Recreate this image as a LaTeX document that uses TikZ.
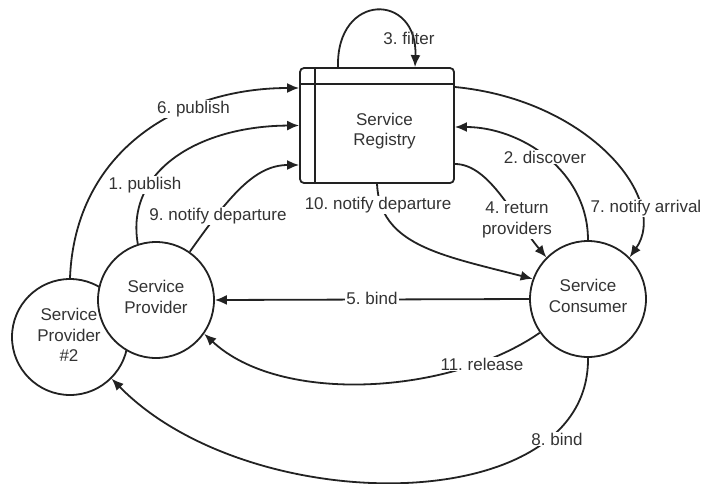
\documentclass[tikz,border=0pt]{standalone}
\usepackage{fontspec}
\setmainfont{Liberation Sans}
\usetikzlibrary{arrows.meta}
\definecolor{linec}{HTML}{222222}
\definecolor{textc}{HTML}{333333}
\newcommand{\lblfont}{\fontsize{17}{20.5}\selectfont\frenchspacing}
\begin{document}
\frenchspacing
\begin{tikzpicture}[x=1pt,y=-1pt,
  ln/.style={draw=linec, line width=1.8pt},
  arr/.style={ln, -{Latex[length=12pt,width=10pt]}},
  circ/.style={circle, draw=linec, fill=white, line width=1.8pt, minimum size=116pt, inner sep=0pt, align=center, text=textc, font=\lblfont},
  txt/.style={inner sep=0pt, text=textc, font=\lblfont, align=center},
  lbl/.style={txt, fill=white, inner sep=1pt}]
\useasboundingbox (0,0) rectangle (702,483);
% nodes
\node[circ] (sp2) at (70,337) {};
\node[txt] (sp2t) at (69,335) {Service\\Provider\\\#2};
\node[circ] (sp) at (156,300) {};
\node[txt] (spt) at (156,297) {Service\\Provider};
\node[circ] (sc) at (588,299) {};
\node[txt] (sct) at (588,296) {Service\\Consumer};
\node[draw=linec, line width=1.8pt, rounded corners=4pt, minimum width=154pt, minimum height=115pt, inner sep=0pt] (reg) at (377,125.5) {};
\draw[ln] (reg.north -| 315,0) -- (reg.south -| 315,0);
\draw[ln] (reg.west |- 0,84) -- (reg.east |- 0,84);
\node[txt] (regt) at (384.5,131) {Service\\Registry};
% connectors
\draw[arr] (sp.108) .. controls (125,170) and (200,126) .. (reg.west);
\draw[arr] (sp2.north) .. controls (75,150) and (180,88) .. (reg.west |- 0,88);
\draw[arr] (sp.55) .. controls (230,195) and (255,165) .. (reg.west |- 0,165);
\draw[arr] (sc.north) .. controls (588,170) and (520,127) .. (reg.east |- 0,127);
\draw[arr] (reg.east |- 0,87) .. controls (590,100) and (670,200) .. (sc.45);
\draw[arr] (reg.east |- 0,164) .. controls (490,164) and (515,220) .. (sc.135);
\draw[arr] (reg.south) .. controls (380,245) and (440,255) .. (sc.160);
\draw[arr] (sc.west) -- (sp.east);
\draw[arr] (sc.215) .. controls (450,395) and (280,405) .. (sp.-35);
\draw[arr] (sc.south) .. controls (590,520) and (250,520) .. (sp2.-45);
\draw[arr] (338,0 |- reg.north) .. controls (336,-8) and (418,-8) .. (415,0 |- reg.north);
% labels
\node[lbl] (l1) at (145,185) {1. publish};
\node[lbl] (l6) at (193.5,109) {6. publish};
\node[lbl] (l9) at (218,216) {9. notify departure};
\node[lbl] (l2) at (545,157) {2. discover};
\node[lbl] (l7) at (646,208) {7. notify arrival};
\node[lbl] (l4) at (517,220) {4. return\\providers};
\node[lbl] (l10) at (378,205) {10. notify departure};
\node[lbl] (l5) at (372,298) {5. bind};
\node[lbl] (l11) at (482,364) {11. release};
\node[lbl] (l8) at (557,439) {8. bind};
\node[txt] (l3) at (409,38) {3. filter};
\end{tikzpicture}
\end{document}
